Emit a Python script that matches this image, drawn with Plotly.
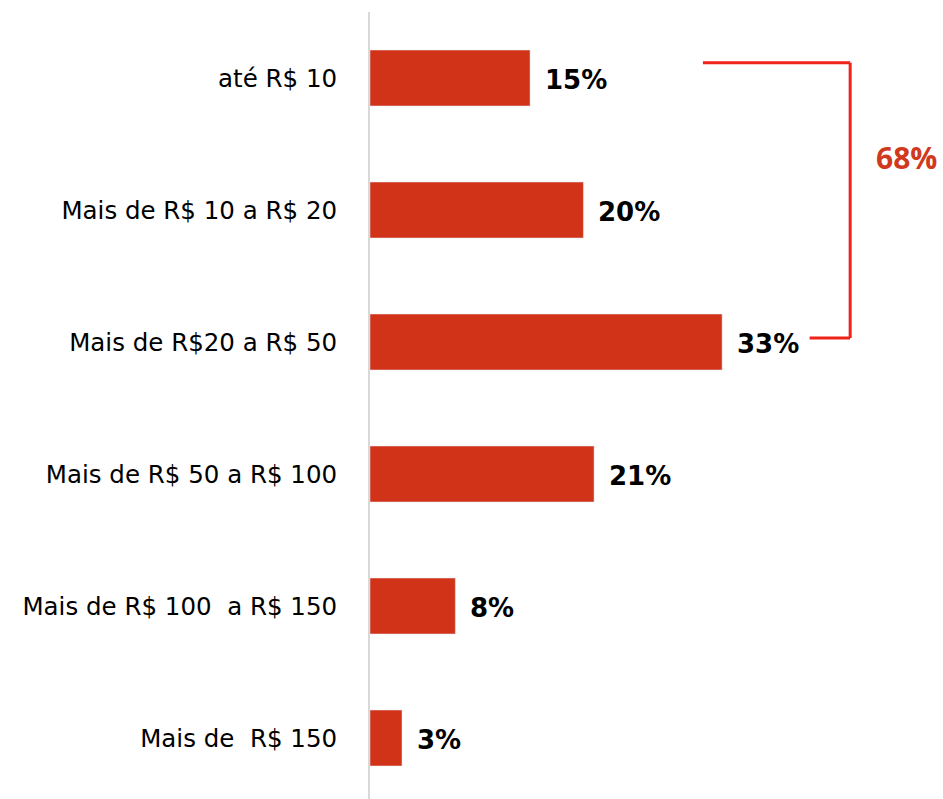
import plotly.graph_objects as go

categories = ["até R$ 10", "Mais de R$ 10 a R$ 20", "Mais de R$20 a R$ 50",
              "Mais de R$ 50 a R$ 100", "Mais de R$ 100\u00a0 a R$ 150", "Mais de\u00a0 R$ 150"]
values = [15, 20, 33, 21, 8, 3]
bracket_idx = [0, 1, 2]

bar_color = "#D03318"
pos = list(range(len(categories)))

fig = go.Figure()
fig.add_trace(go.Bar(x=values, y=pos, orientation="h", marker_color=bar_color,
                     width=0.424, hoverinfo="skip"))

for v, p in zip(values, pos):
    fig.add_annotation(x=v, y=p, text=f"<b>{v}%</b>", showarrow=False, xanchor="left",
                       xshift=13, yshift=-2,
                       font=dict(family="DejaVu Sans", size=26, color="#000000", weight=800))

# bracket grouping the first three categories
total = sum(values[i] for i in bracket_idx)
top = bracket_idx[0]
bot = bracket_idx[-1]
bx = 45.0
line = dict(color="#F0231A", width=3)
fig.add_shape(type="line", x0=31.2, x1=bx, y0=top - 0.115, y1=top - 0.115, line=line)
fig.add_shape(type="line", x0=bx, x1=bx, y0=top - 0.115, y1=bot - 0.03, line=line)
fig.add_shape(type="line", x0=41.2, x1=bx, y0=bot - 0.03, y1=bot - 0.03, line=line)
fig.add_annotation(x=bx, y=(top + bot) / 2 - 0.4, text=f"<b>{total}%</b>", showarrow=False,
                   xanchor="left", xshift=24,
                   font=dict(family="Open Sans", size=30, color="#D0391E"))

fig.update_layout(
    width=943, height=799,
    margin=dict(l=370, r=0, t=12, b=0),
    plot_bgcolor="white", paper_bgcolor="white",
    showlegend=False,
)
fig.update_xaxes(range=[0, 53.7], visible=False, fixedrange=True)
fig.update_yaxes(tickvals=pos, ticktext=categories, range=[5.462, -0.5],
                 showline=True, linecolor="#D9D9D9", linewidth=2,
                 showgrid=False, zeroline=False, ticks="", ticklabelstandoff=26,
                 tickfont=dict(family="DejaVu Sans", size=24.5, color="#000000"))

fig.write_html("out.html")
